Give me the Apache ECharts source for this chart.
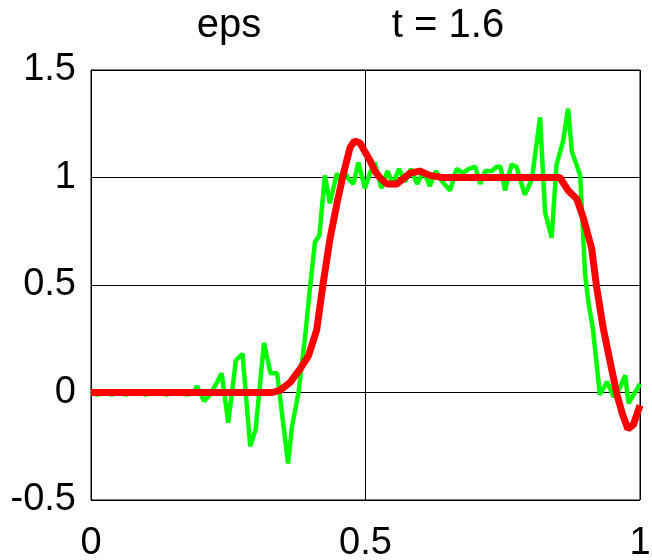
<!DOCTYPE html>
<html>
<head>
<meta charset="utf-8">
<script src="https://cdn.jsdelivr.net/npm/echarts@6/dist/echarts.min.js"></script>
<style>html,body{margin:0;padding:0;background:#fff;}#c{width:652px;height:560px;}</style>
</head>
<body>
<div id="c"></div>
<script>
var titleLeft = "eps";
var titleRight = "t = 1.6";
var xTicks = [0, 0.5, 1];
var yTicks = [-0.5, 0, 0.5, 1, 1.5];

var greenX = [0,0.0125,0.025,0.0375,0.05,0.0625,0.075,0.0875,0.1,0.1125,0.125,0.1375,0.15,0.1625,0.175,0.1875,
  0.193,0.206,0.217,0.228,0.238,0.25,0.264,0.276,0.29,0.30,0.315,0.327,0.339,0.359,0.366,0.378,0.39,0.399,0.408,0.416,
  0.426,0.435,0.448,0.455,0.463,0.47,0.478,0.487,0.499,0.508,0.517,0.529,0.54,0.55,0.561,0.572,0.583,0.594,0.606,0.617,
  0.628,0.64,0.654,0.666,0.677,0.688,0.70,0.709,0.718,0.73,0.739,0.746,0.754,0.766,0.775,0.79,0.803,0.818,0.827,0.839,
  0.848,0.86,0.869,0.876,0.891,0.90,0.906,0.914,0.927,0.94,0.952,0.963,0.973,0.979,1.0];
var greenY = [0,-0.01,0,-0.01,0,-0.01,0,0,-0.01,0,0,-0.01,0,0,-0.01,0,
  0.03,-0.04,-0.01,0.04,0.09,-0.14,0.15,0.18,-0.25,-0.17,0.23,0.09,0.09,-0.33,-0.16,0.0,0.26,0.49,0.70,0.73,
  1.01,0.88,1.02,0.98,1.02,0.99,0.97,1.07,0.95,1.02,1.07,0.95,1.03,0.97,1.04,0.98,1.04,0.97,1.03,0.96,
  1.03,0.98,0.94,1.04,1.02,1.04,1.05,0.97,1.03,1.03,1.05,1.05,0.94,1.06,1.05,0.92,0.99,1.28,0.84,0.72,
  1.06,1.17,1.32,1.12,1.01,0.55,0.42,0.30,-0.01,0.05,-0.02,0.02,0.08,-0.05,0.04];

var redX = [0,0.33,0.344,0.362,0.381,0.396,0.411,0.417,0.423,0.435,0.448,0.46,0.472,0.48,0.49,0.499,0.508,0.517,0.526,
  0.539,0.557,0.581,0.599,0.617,0.64,0.854,0.869,0.885,0.897,0.912,0.921,0.933,0.945,0.958,0.968,0.978,0.988,1.0];
var redY = [0,0,0.01,0.045,0.11,0.17,0.29,0.40,0.51,0.71,0.88,1.02,1.14,1.17,1.16,1.12,1.08,1.03,1.0,
  0.97,0.97,1.02,1.03,1.01,1.0,1.0,0.94,0.90,0.81,0.67,0.49,0.30,0.15,-0.01,-0.10,-0.17,-0.15,-0.06];

function pairs(xs, ys){ return xs.map(function(x,i){ return [x, ys[i]]; }); }

var chart = echarts.init(document.getElementById('c'), null, {renderer:'canvas'});
var fam = '"Liberation Sans", Arial, sans-serif';
chart.setOption({
  animation: false,
  backgroundColor: '#fff',
  grid: {left: 91, right: 12, top: 70, bottom: 60, outerBoundsMode: 'none', containLabel: false,
         show: true, borderColor: '#000', borderWidth: 1, backgroundColor: 'transparent'},
  graphic: [
    {type:'text', x: 229, y: 26, style:{text: titleLeft, fontSize: 40, fontFamily: fam, fill:'#000', textAlign:'center', textVerticalAlign:'middle'}},
    {type:'text', x: 448, y: 26, style:{text: titleRight, fontSize: 40, fontFamily: fam, fill:'#000', textAlign:'center', textVerticalAlign:'middle'}}
  ],
  xAxis: {
    type: 'value', min: xTicks[0], max: xTicks[xTicks.length-1], interval: 0.5,
    axisLine: {show: true, lineStyle: {color:'#000', width: 1}},
    axisTick: {show: false},
    splitLine: {show: true, lineStyle: {color:'#000', width: 1}},
    axisLabel: {color:'#000', fontSize: 38, fontFamily: fam, margin: 25}
  },
  yAxis: {
    type: 'value', min: yTicks[0], max: yTicks[yTicks.length-1], interval: 0.5,
    axisLine: {show: true, lineStyle: {color:'#000', width: 1}},
    axisTick: {show: false},
    splitLine: {show: true, lineStyle: {color:'#000', width: 1}},
    axisLabel: {color:'#000', fontSize: 38, fontFamily: fam, margin: 15}
  },
  series: [
    {type:'line', data: pairs(greenX, greenY), showSymbol:false, symbol:'none', lineStyle:{color:'#00ff00', width:4.5}, z:2},
    {type:'line', data: pairs(redX, redY), showSymbol:false, symbol:'none', lineStyle:{color:'#ff0000', width:7}, z:3}
  ]
});
</script>
</body>
</html>
